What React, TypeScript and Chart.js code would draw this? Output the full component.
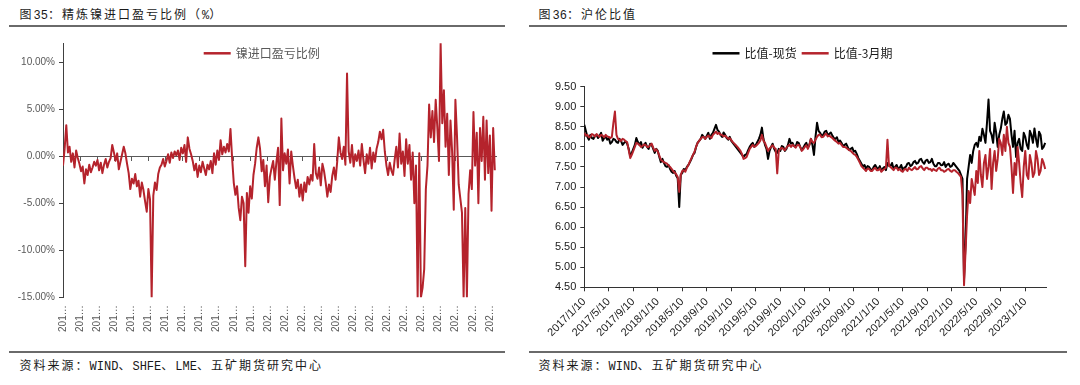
import React, { useEffect, useRef } from 'react';
import { Chart, registerables } from 'chart.js';

Chart.register(...registerables);

// ---------- 图35：精炼镍进口盈亏比例（%） ----------
const importProfitRatio: number[] = [
  -1.0, 0.8, 3.3, 0.4, 1.0, -0.6, 0.3, -1.2, 0.6, -0.2,
  -0.8, -1.6, -1.1, -2.9, -1.4, -2.0, -0.9, -1.7, -1.2, -0.6,
  -1.0, -0.4, -1.5, -0.7, -1.8, -0.9, -0.3, -1.2, -0.6, -0.2,
  1.2, 0.4, -0.5, 0.3, -1.4, -0.6, 0.2, 1.0, 0.3, -0.8,
  -1.8, -3.5, -2.4, -2.9, -1.9, -3.2, -2.6, -4.3, -2.8, -3.6,
  -4.8, -5.9, -3.5, -4.6, -15.0, -4.2, -2.8, -3.6, -1.9, -1.2,
  -0.9, -0.3, -1.1, -0.5, 0.2, -0.7, 0.4, -0.2, 0.5, 0.1,
  0.6, -0.4, 0.9, 0.3, 1.2, -0.6, 2.0, 0.8, 0.2, -0.5,
  -1.5, -0.8, -2.2, -1.0, -1.7, -0.6, -1.3, -2.0, -0.9, -1.4,
  -0.5, -1.8, 0.3, -0.9, 0.6, -0.4, 1.7, 0.2, 1.0, 0.4,
  1.3, 0.5, 2.9, -0.2, -2.8, -4.1, -3.2, -5.5, -6.8, -4.3,
  -5.0, -11.7, -3.9, -6.0, -3.2, -4.5, -2.0, -0.8, 0.9, 2.0,
  0.8, -1.6, -0.4, -3.2, -1.0, -4.9, -2.2, -1.3, -0.5, -2.5,
  -0.6, 0.9, -5.2, 4.0, -1.5, 0.3, -0.8, 0.7, -2.9, 0.5,
  -1.0, -2.3, -3.4, -2.5, -4.3, -3.0, -4.7, -2.8, -3.8, -2.2,
  -3.0, -2.0, -2.6, 1.3, -1.8, -2.4, -1.2, -3.1, -0.8, -1.6,
  -2.8, -4.3, -3.0, -3.8, -2.1, -1.2, -2.5, -0.6, 2.0, 0.4,
  -0.3, 1.0, -0.9, 8.8, 0.5, -0.7, 1.2, -1.1, 0.2, -0.5,
  0.6, -1.0, 1.3, -0.4, -1.8, 0.2, -0.8, 0.9, -1.3, 0.4,
  -0.6, 0.8, 1.5, 2.6, 1.8, 2.8, 0.5, -1.0, -2.0, -0.7,
  -1.5, -2.0, -0.4, 1.0, -1.2, 2.4, -0.8, 0.5, -2.1, 1.8,
  -0.8, 1.2, -2.5, 0.4, -5.0, -1.0, -15.0, 0.3, -15.0, -14.0,
  -12.0, -3.5, -1.0, 5.5, 2.0, 4.8, 1.5, 6.0, 3.0, -0.5,
  12.0, 3.5, 7.0, 1.0, 4.5, -2.0, 3.8, 0.5, -5.7, 6.0,
  2.0, -3.0, -4.5, -6.0, -15.0, -5.5, -15.0, -4.0, -1.5, -3.5,
  4.7, -1.0, 2.5, -5.0, 3.0, -0.5, 4.2, -2.5, 3.8, -1.8,
  2.2, -5.8, 3.0, -1.5,
];
const importLabel = '镍进口盈亏比例';
const importXLabels: string[] = [
  '201…', '201…', '201…', '201…', '201…', '201…', '201…', '201…', '201…', '201…', '201…', '201…',
  '202…', '202…', '202…', '202…', '202…', '202…', '202…', '202…', '202…', '202…', '202…', '202…', '202…', '202…',
];
const importYTicks: number[] = [-15, -10, -5, 0, 5, 10];

// ---------- 图36：沪伦比值 ----------
const ratioDates: string[] = [
  '2017/1/10', '2017/5/10', '2017/9/10', '2018/1/10', '2018/5/10', '2018/9/10', '2019/1/10',
  '2019/5/10', '2019/9/10', '2020/1/10', '2020/5/10', '2020/9/10', '2021/1/10', '2021/5/10',
  '2021/9/10', '2022/1/10', '2022/5/10', '2022/9/10', '2023/1/10',
];
const spotLabel = '比值-现货';
const threeMonthLabel = '比值-3月期';
const spotRatio: number[] = [
  8.55, 8.40, 8.25, 8.18, 8.30, 8.22, 8.20, 8.28, 8.30, 8.22,
  8.28, 8.35, 8.15, 8.22, 8.25, 8.18, 8.22, 8.08, 8.12, 8.20,
  8.18, 8.12, 8.10, 8.20, 8.15, 8.05, 8.10, 8.14, 8.08, 7.95,
  7.78, 7.85, 7.95, 8.05, 8.22, 8.12, 8.05, 8.12, 7.98, 8.05,
  8.10, 8.00, 7.95, 8.08, 8.05, 7.95, 7.85, 7.95, 7.90, 7.75,
  7.62, 7.70, 7.60, 7.52, 7.50, 7.55, 7.45, 7.38, 7.35, 7.40,
  7.28, 7.22, 6.50, 7.30, 7.35, 7.45, 7.42, 7.50, 7.55, 7.62,
  7.70, 7.80, 7.85, 8.00, 8.10, 8.15, 8.20, 8.30, 8.25, 8.20,
  8.28, 8.35, 8.20, 8.30, 8.35, 8.45, 8.55, 8.42, 8.38, 8.30,
  8.25, 8.36, 8.30, 8.22, 8.18, 8.25, 8.15, 8.10, 8.05, 8.00,
  7.95, 7.90, 7.85, 7.80, 7.75, 7.80, 7.82, 7.92, 8.00, 8.06,
  8.10, 8.00, 8.05, 8.12, 8.20, 8.30, 8.48, 8.20, 8.05, 7.95,
  7.70, 7.90, 8.00, 8.08, 7.95, 7.88, 7.85, 7.95, 7.90, 8.02,
  8.00, 7.90, 7.95, 8.05, 8.20, 8.08, 8.10, 8.02, 8.00, 8.12,
  8.10, 8.00, 7.92, 7.98, 8.05, 8.10, 7.98, 8.05, 8.20, 8.05,
  7.80, 8.25, 8.60, 8.40, 8.35, 8.28, 8.30, 8.38, 8.40, 8.30,
  8.32, 8.36, 8.28, 8.22, 8.20, 8.24, 8.12, 8.16, 8.10, 8.02,
  8.05, 8.08, 8.00, 7.92, 7.95, 7.98, 7.88, 7.90, 7.82, 7.72,
  7.65, 7.58, 7.50, 7.55, 7.45, 7.52, 7.50, 7.44, 7.42, 7.50,
  7.55, 7.48, 7.45, 7.52, 7.40, 7.46, 7.50, 7.42, 7.60, 7.55,
  7.52, 7.60, 7.45, 7.50, 7.55, 7.45, 7.48, 7.55, 7.42, 7.48,
  7.50, 7.58, 7.60, 7.52, 7.55, 7.62, 7.65, 7.58, 7.60, 7.68,
  7.70, 7.62, 7.58, 7.66, 7.68, 7.60, 7.62, 7.70, 7.58, 7.52,
  7.52, 7.60, 7.60, 7.54, 7.55, 7.62, 7.50, 7.56, 7.58, 7.50,
  7.52, 7.60, 7.55, 7.50, 7.45, 7.40, 7.30, 7.20, 4.70, 5.60,
  7.20, 7.50, 7.80, 7.60, 7.90, 8.05, 8.10, 8.00, 8.25, 8.15,
  8.45, 8.30, 8.10, 8.60, 9.18, 8.40, 8.30, 8.10, 8.60, 8.35,
  8.00, 8.30, 8.45, 8.70, 8.88, 8.55, 8.60, 8.80, 8.70, 8.30,
  8.00, 8.40, 7.75, 8.10, 8.20, 7.95, 7.90, 8.35, 8.25, 8.05,
  7.95, 8.40, 8.30, 8.10, 8.46, 8.20, 8.00, 8.38, 8.30, 7.95,
  8.00, 8.10,
];
const threeMonthRatio: number[] = [
  8.35, 8.28, 8.30, 8.24, 8.25, 8.32, 8.30, 8.26, 8.32, 8.28,
  8.25, 8.30, 8.28, 8.24, 8.30, 8.26, 8.25, 8.22, 8.25, 8.60,
  8.88, 8.30, 8.20, 8.18, 8.15, 8.20, 8.18, 8.14, 8.12, 7.92,
  7.72, 7.80, 7.90, 8.00, 8.10, 8.08, 8.05, 8.00, 8.02, 8.06,
  8.05, 8.00, 8.00, 8.04, 8.08, 7.98, 7.90, 7.94, 7.88, 7.78,
  7.68, 7.65, 7.62, 7.60, 7.58, 7.54, 7.50, 7.45, 7.40, 7.36,
  7.32, 7.25, 6.88, 7.30, 7.40, 7.42, 7.38, 7.48, 7.55, 7.64,
  7.72, 7.80, 7.88, 8.00, 8.10, 8.15, 8.20, 8.24, 8.25, 8.20,
  8.25, 8.28, 8.25, 8.22, 8.30, 8.34, 8.38, 8.32, 8.35, 8.30,
  8.30, 8.26, 8.28, 8.24, 8.20, 8.22, 8.17, 8.12, 8.08, 8.04,
  8.00, 7.95, 7.90, 7.82, 7.70, 7.72, 7.75, 7.85, 7.95, 8.00,
  8.05, 8.00, 8.02, 8.06, 8.10, 8.16, 8.30, 8.15, 8.10, 8.00,
  7.90, 7.96, 8.00, 8.04, 7.98, 7.95, 7.34, 7.90, 7.95, 7.98,
  7.95, 7.92, 7.98, 8.02, 8.05, 8.00, 8.05, 8.02, 7.98, 8.04,
  8.05, 8.00, 7.90, 7.94, 8.00, 8.04, 7.95, 8.05, 8.20, 8.12,
  8.10, 8.18, 8.25, 8.30, 8.30, 8.24, 8.25, 8.30, 8.33, 8.26,
  8.28, 8.25, 8.22, 8.18, 8.15, 8.12, 8.08, 8.10, 8.05, 8.00,
  8.00, 7.98, 7.95, 7.92, 7.90, 7.86, 7.82, 7.80, 7.75, 7.68,
  7.60, 7.52, 7.48, 7.44, 7.40, 7.46, 7.45, 7.40, 7.40, 7.45,
  7.48, 7.42, 7.42, 7.46, 7.38, 7.42, 7.45, 7.48, 8.18, 7.52,
  7.50, 7.46, 7.42, 7.48, 7.48, 7.42, 7.45, 7.40, 7.38, 7.44,
  7.45, 7.40, 7.48, 7.44, 7.42, 7.46, 7.50, 7.44, 7.45, 7.50,
  7.52, 7.46, 7.42, 7.48, 7.48, 7.44, 7.45, 7.40, 7.45, 7.42,
  7.40, 7.46, 7.48, 7.42, 7.42, 7.38, 7.40, 7.44, 7.45, 7.40,
  7.38, 7.42, 7.42, 7.38, 7.35, 7.30, 7.25, 6.80, 4.55, 5.40,
  6.30, 6.90, 6.60, 7.20, 7.00, 6.80, 7.40, 7.10, 7.90, 7.30,
  7.00, 7.60, 7.80, 7.20, 7.50, 7.95, 6.95, 7.60, 7.90, 7.40,
  7.70, 8.20, 8.10, 7.80, 8.30, 7.90, 8.50, 8.10, 8.00, 7.50,
  6.85, 7.60, 7.30, 8.00, 7.60, 7.10, 6.75, 7.50, 7.90, 7.30,
  7.20, 7.80, 7.60, 7.25, 7.35, 7.90, 7.70, 7.30, 7.40, 7.70,
  7.60, 7.45,
];

const RED = '#B5232C';
const BLACK = '#000000';
const CJK = "'Noto Sans CJK SC', sans-serif";
const NUM = "'Liberation Sans', Arial, sans-serif";
const MONO = "'Liberation Mono', monospace";

const legendPlugin = {
  id: 'customLegend',
  afterDraw(chart: any, _args: any, opts: any) {
    const { ctx } = chart;
    const items = chart.data.datasets.map((d: any) => ({ text: d.label, color: d.borderColor }));
    ctx.save();
    ctx.font = opts.font;
    const lineW = 27;
    const gap = 5;
    const widths = items.map((it: any) => lineW + gap + ctx.measureText(it.text).width);
    const total = widths.reduce((a: number, b: number) => a + b, 0) + gap * (items.length - 1);
    let x = opts.centerX - total / 2;
    const y = opts.y;
    items.forEach((it: any, i: number) => {
      ctx.strokeStyle = it.color;
      ctx.lineWidth = 2.5;
      ctx.beginPath();
      ctx.moveTo(x, y);
      ctx.lineTo(x + lineW, y);
      ctx.stroke();
      ctx.fillStyle = opts.color;
      ctx.textBaseline = 'middle';
      ctx.textAlign = 'left';
      ctx.fillText(it.text, x + lineW + gap, y + 0.5);
      x += widths[i] + gap;
    });
    ctx.restore();
  },
};

function Mono({ children }: { children: any }) {
  return <span style={{ fontFamily: MONO, letterSpacing: 0 }}>{children}</span>;
}

const textStyle: any = {
  position: 'absolute',
  fontFamily: CJK,
  fontSize: 12,
  letterSpacing: 2,
  lineHeight: '18px',
  color: '#1a1a1a',
  whiteSpace: 'nowrap',
};

function Rule({ left, width, top }: { left: number; width: number; top: number }) {
  return <div style={{ position: 'absolute', left, top, width, height: 2, background: '#6a6a6a' }} />;
}

export default function App() {
  const leftRef = useRef<HTMLCanvasElement | null>(null);
  const rightRef = useRef<HTMLCanvasElement | null>(null);

  useEffect(() => {
    const leftMax = importProfitRatio.length;
    const leftTickStep = 10.4;
    const leftTicks = importXLabels.map((_, k) => ({ value: k * leftTickStep }));
    const leftPoints = importProfitRatio.map((v, i) => ({ x: i, y: v }));

    const left = new Chart(leftRef.current as HTMLCanvasElement, {
      type: 'line',
      data: {
        datasets: [
          {
            label: importLabel,
            data: leftPoints,
            borderColor: RED,
            backgroundColor: RED,
            borderWidth: 2,
            pointRadius: 0,
            tension: 0,
            borderJoinStyle: 'round',
            xAxisID: 'x',
            yAxisID: 'y',
          },
        ],
      },
      options: {
        animation: false,
        responsive: false,
        events: [],
        layout: { padding: { left: 13, top: 13.3, right: 8, bottom: 7.7 }, autoPadding: false },
        plugins: {
          legend: { display: false },
          tooltip: { enabled: false },
          customLegend: { centerX: 261.7, y: 23.3, color: '#595959', font: `12px ${CJK}` },
        },
        scales: {
          x: {
            type: 'linear',
            min: 0,
            max: leftMax,
            position: { y: 0 },
            z: 1,
            afterBuildTicks: (s: any) => { s.ticks = leftTicks.map((t) => ({ ...t })); },
            ticks: { display: false },
            grid: { display: true, drawOnChartArea: false, drawTicks: true, tickLength: 4, color: '#595959', lineWidth: 1 },
            border: { display: true, color: '#595959', width: 1 },
          },
          x2: {
            type: 'linear',
            axis: 'x',
            min: 0,
            max: leftMax,
            position: 'bottom',
            afterBuildTicks: (s: any) => { s.ticks = leftTicks.map((t) => ({ ...t })); },
            afterFit: (s: any) => { s.height = 40; },
            grid: { display: false, drawTicks: false },
            border: { display: false },
            ticks: {
              autoSkip: false,
              maxRotation: 90,
              minRotation: 90,
              padding: 8,
              color: '#595959',
              font: { family: NUM, size: 10 },
              callback: (_v: any, i: number) => importXLabels[i],
            },
          },
          y: {
            type: 'linear',
            min: -15,
            max: 12,
            position: 'left',
            afterFit: (s: any) => { s.width = 50; },
            afterBuildTicks: (s: any) => { s.ticks = importYTicks.map((v) => ({ value: v })); },
            ticks: {
              color: '#595959',
              padding: 4,
              font: { family: NUM, size: 10 },
              callback: (v: any) => Number(v).toFixed(2) + '%',
            },
            grid: { display: true, drawOnChartArea: false, drawTicks: true, tickLength: 4, color: '#404040' },
            border: { display: true, color: '#404040', width: 1 },
          },
        },
      } as any,
      plugins: [legendPlugin],
    });

    const rightMax = spotRatio.length;
    const rightStep = 16;
    const rightTicks = ratioDates.map((_, k) => ({ value: k * rightStep }));
    const spotPoints = spotRatio.map((v, i) => ({ x: i, y: v }));
    const threePoints = threeMonthRatio.map((v, i) => ({ x: i, y: v }));

    const right = new Chart(rightRef.current as HTMLCanvasElement, {
      type: 'line',
      data: {
        datasets: [
          {
            label: spotLabel,
            data: spotPoints,
            borderColor: BLACK,
            backgroundColor: BLACK,
            borderWidth: 2,
            pointRadius: 0,
            tension: 0,
            borderJoinStyle: 'round',
            order: 1,
          },
          {
            label: threeMonthLabel,
            data: threePoints,
            borderColor: RED,
            backgroundColor: RED,
            borderWidth: 2,
            pointRadius: 0,
            tension: 0,
            borderJoinStyle: 'round',
            order: 0,
          },
        ],
      },
      options: {
        animation: false,
        responsive: false,
        events: [],
        layout: { padding: { left: 4, top: 56.7, right: 28.3, bottom: 7.7 }, autoPadding: false },
        plugins: {
          legend: { display: false },
          tooltip: { enabled: false },
          customLegend: { centerX: 272.5, y: 23.3, color: '#1a1a1a', font: `12px ${CJK}` },
        },
        scales: {
          x: {
            type: 'linear',
            min: 0,
            max: rightMax,
            position: 'bottom',
            afterBuildTicks: (s: any) => { s.ticks = rightTicks.map((t) => ({ ...t })); },
            afterFit: (s: any) => { s.height = 50; },
            grid: { display: true, drawOnChartArea: false, drawTicks: true, tickLength: 4, color: '#333333' },
            border: { display: true, color: '#333333', width: 1 },
            ticks: {
              autoSkip: false,
              maxRotation: 45,
              minRotation: 45,
              padding: 4,
              color: '#1a1a1a',
              font: { family: NUM, size: 11 },
              callback: (_v: any, i: number) => ratioDates[i],
            },
          },
          y: {
            type: 'linear',
            min: 4.5,
            max: 9.5,
            position: 'left',
            afterFit: (s: any) => { s.width = 50.3; },
            ticks: {
              stepSize: 0.5,
              color: '#1a1a1a',
              padding: 4,
              font: { family: NUM, size: 11 },
              callback: (v: any) => Number(v).toFixed(2),
            },
            grid: { display: true, drawOnChartArea: false, drawTicks: true, tickLength: 4, color: '#333333' },
            border: { display: true, color: '#333333', width: 1 },
          },
        },
      } as any,
      plugins: [legendPlugin],
    });

    return () => {
      left.destroy();
      right.destroy();
    };
  }, []);

  return (
    <div style={{ position: 'absolute', left: 0, top: 0, width: 1080, height: 385, background: '#ffffff', overflow: 'hidden' }}>
      <div style={{ ...textStyle, left: 19.6, top: 4.8 }}>
        图<Mono>35</Mono>：精炼镍进口盈亏比例（<Mono>%</Mono>）
      </div>
      <Rule left={9.3} width={496.2} top={25} />
      <canvas ref={leftRef} width={510} height={315} style={{ position: 'absolute', left: 0, top: 30, width: 510, height: 315 }} />
      <Rule left={9.3} width={496.2} top={350.5} />
      <div style={{ ...textStyle, left: 19.6, top: 356 }}>
        资料来源：<Mono>WIND</Mono>、<Mono>SHFE</Mono>、<Mono>LME</Mono>、五矿期货研究中心
      </div>

      <div style={{ ...textStyle, left: 538.6, top: 4.8 }}>
        图<Mono>36</Mono>：沪伦比值
      </div>
      <Rule left={528.6} width={538.3} top={25} />
      <canvas ref={rightRef} width={545} height={315} style={{ position: 'absolute', left: 530, top: 30, width: 545, height: 315 }} />
      <Rule left={528.6} width={538.3} top={350.5} />
      <div style={{ ...textStyle, left: 538.6, top: 356 }}>
        资料来源：<Mono>WIND</Mono>、五矿期货研究中心
      </div>
    </div>
  );
}
